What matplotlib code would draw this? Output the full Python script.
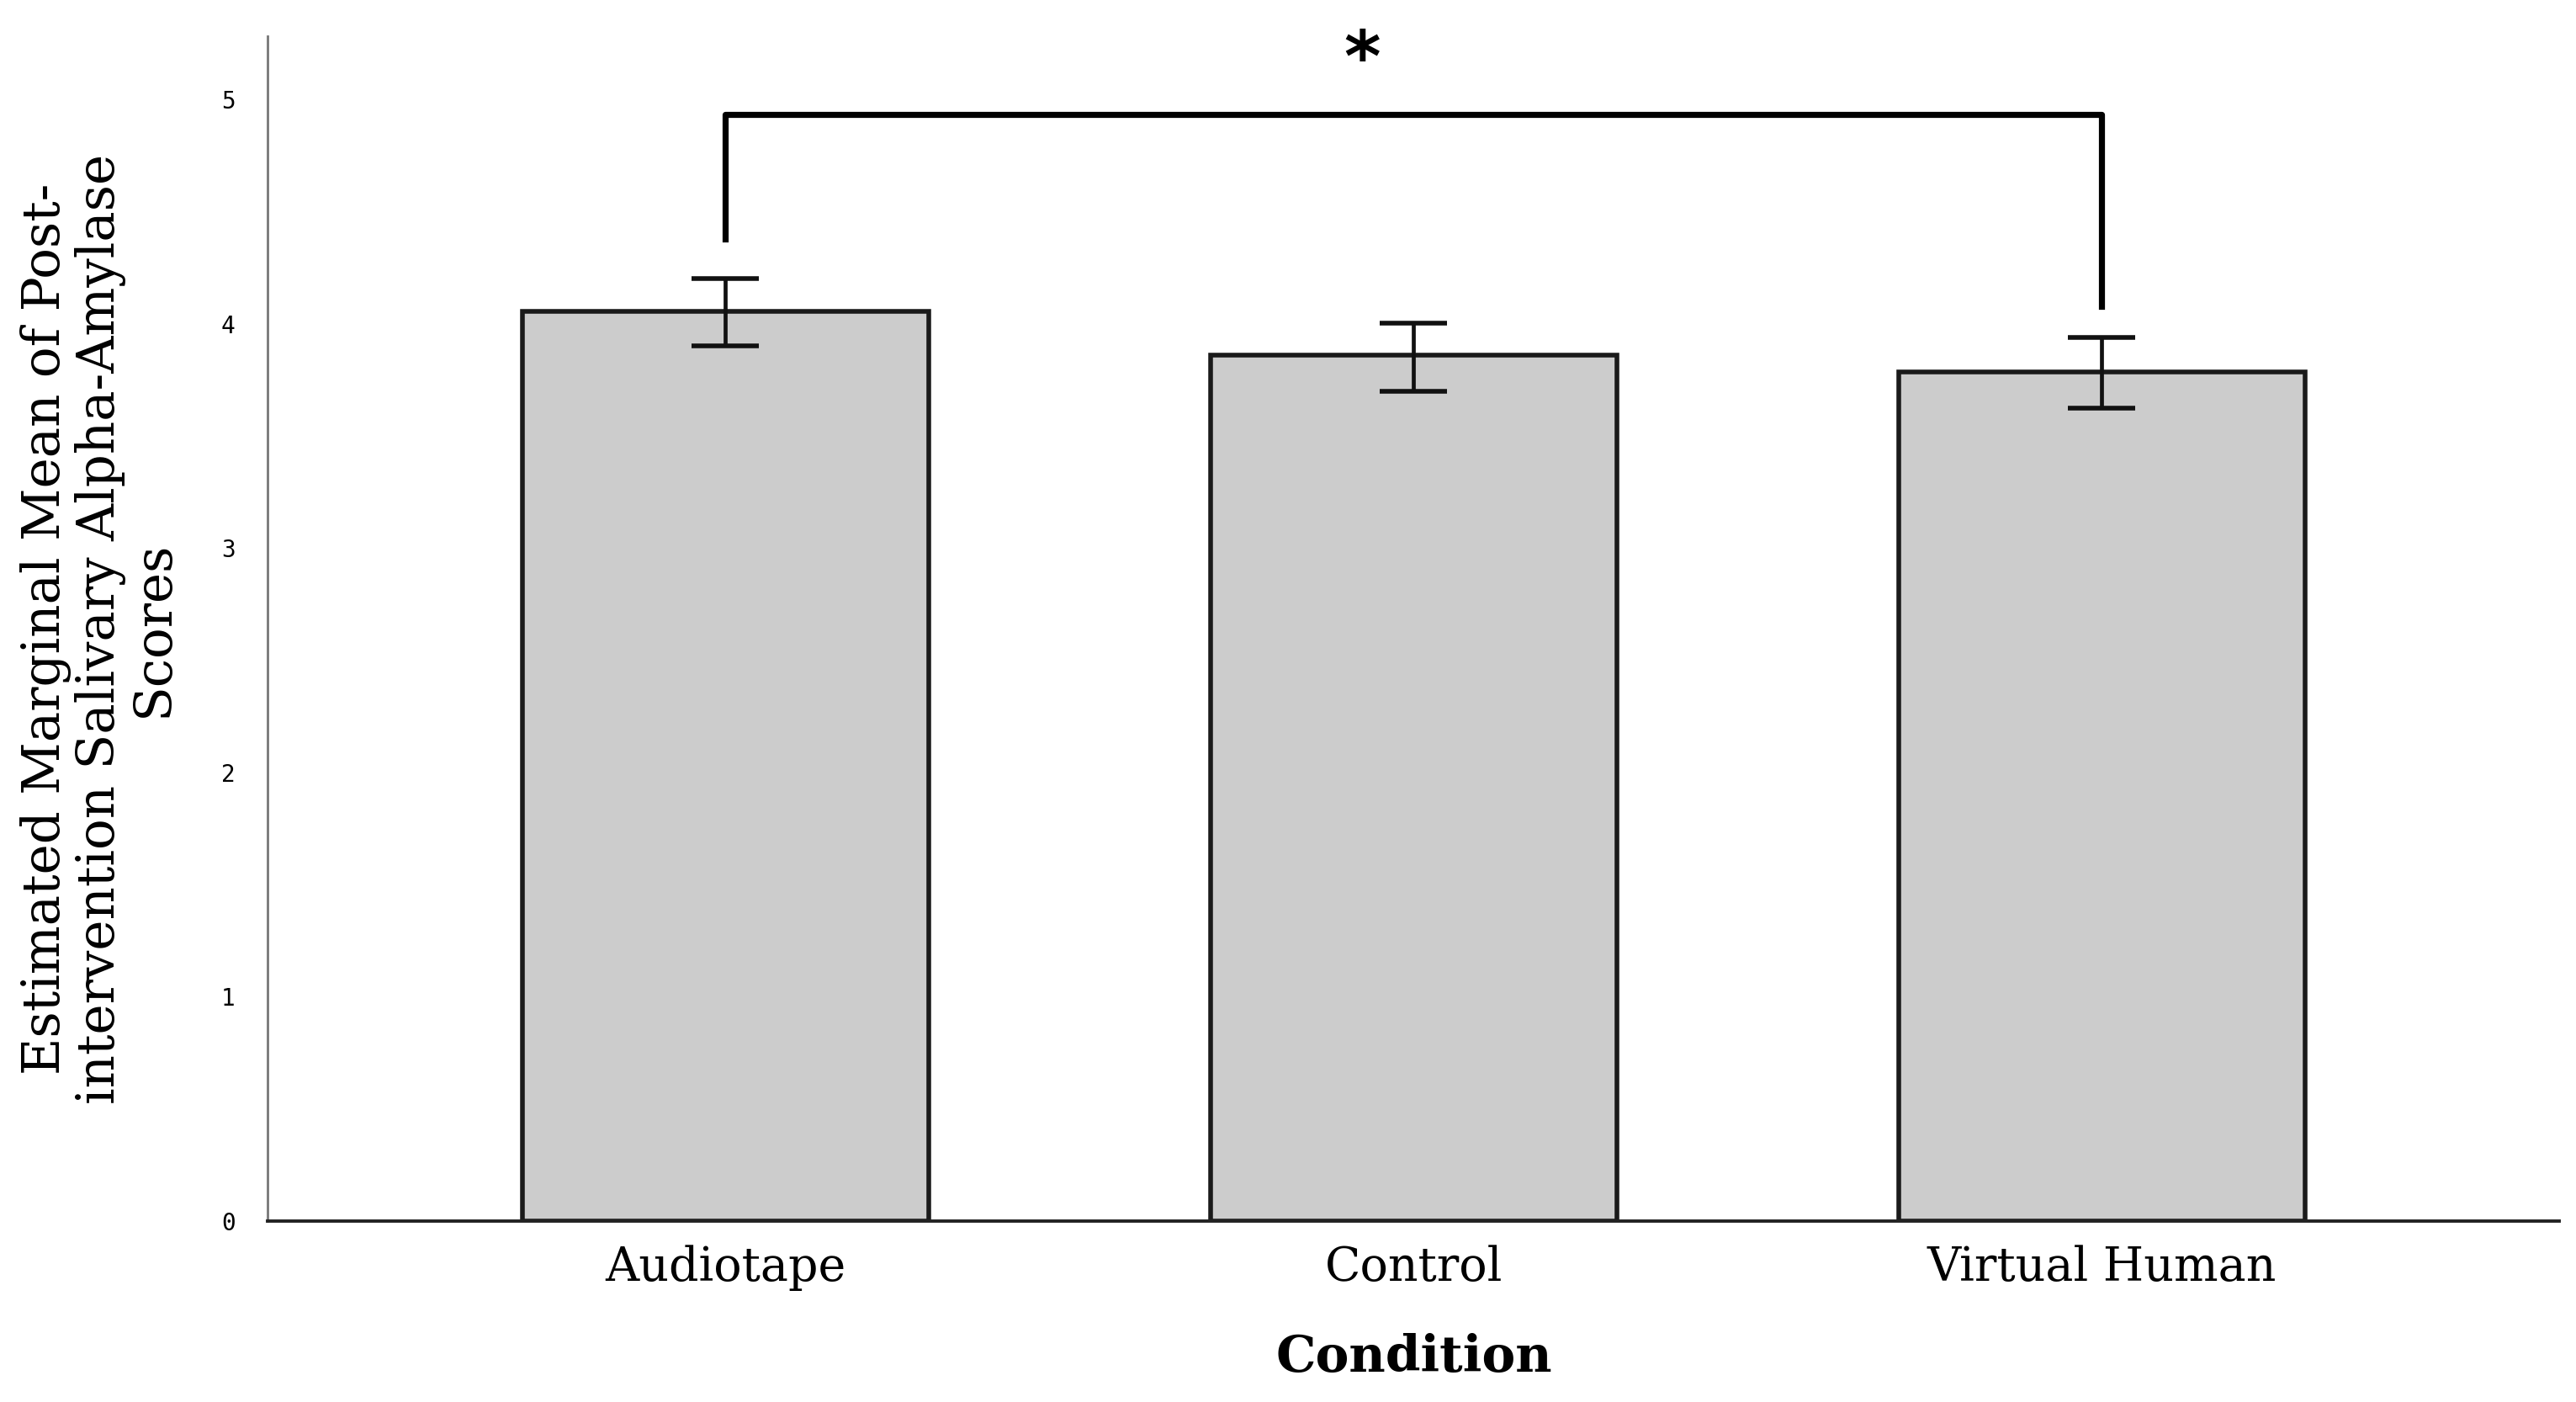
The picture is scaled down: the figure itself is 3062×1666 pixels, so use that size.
import matplotlib
matplotlib.use("Agg")
import matplotlib.pyplot as plt

conditions = ["Audiotape", "Control", "Virtual Human"]
means = [4.056, 3.858, 3.785]
ci_low = [3.902, 3.697, 3.624]
ci_high = [4.202, 4.004, 3.938]
y_ticks = [0, 1, 2, 3, 4, 5]

# significance bracket between Audiotape and Virtual Human
bracket_pair = (0, 2)
bracket_y = 4.934
bracket_feet = (4.378, 4.078)

fig = plt.figure(figsize=(15.31, 8.33), dpi=200)
ax = fig.add_axes([0.104, 0.129, 0.8896, 0.845])

x = list(range(len(conditions)))
err = [[m - lo for m, lo in zip(means, ci_low)],
       [hi - m for m, hi in zip(means, ci_high)]]

ax.bar(x, means, width=0.59, color="#cccccc", edgecolor="#1a1a1a", linewidth=2.0, zorder=2)
ax.errorbar(x, means, yerr=err, fmt="none", ecolor="#111111", elinewidth=1.7,
            capsize=14.5, capthick=2.0, zorder=3)

x0, x1 = bracket_pair
ax.plot([x0, x0, x1, x1], [bracket_feet[0], bracket_y, bracket_y, bracket_feet[1]],
        color="black", linewidth=2.6, solid_joinstyle="round", zorder=4)
ax.text((x0 + x1) / 2 - 0.075, 5.17, "*", ha="center", va="center",
        fontsize=30, fontweight="bold", family="DejaVu Sans")

ax.set_xlim(-0.665, 2.665)
ax.set_ylim(0, 5.28)
ax.set_yticks(y_ticks)
ax.set_yticklabels([str(t) for t in y_ticks], family="DejaVu Sans Mono", fontsize=10)
ax.set_xticks(x)
ax.set_xticklabels(conditions, family="DejaVu Serif", fontsize=20)
ax.tick_params(axis="both", length=0)
ax.tick_params(axis="y", pad=14)
ax.tick_params(axis="x", pad=10)

for side in ["top", "right"]:
    ax.spines[side].set_visible(False)
ax.spines["left"].set_color("#777777")
ax.spines["left"].set_linewidth(1.0)
ax.spines["bottom"].set_color("#222222")
ax.spines["bottom"].set_linewidth(1.4)

ax.set_xlabel("Condition", family="DejaVu Serif", fontsize=21.5, fontweight="bold", labelpad=18)
ax.set_ylabel("Estimated Marginal Mean of Post-\nintervention Salivary Alpha-Amylase\nScores",
              family="DejaVu Serif", fontsize=22, linespacing=1.07, labelpad=18)

fig.savefig("out.png", dpi=200, facecolor="white")
